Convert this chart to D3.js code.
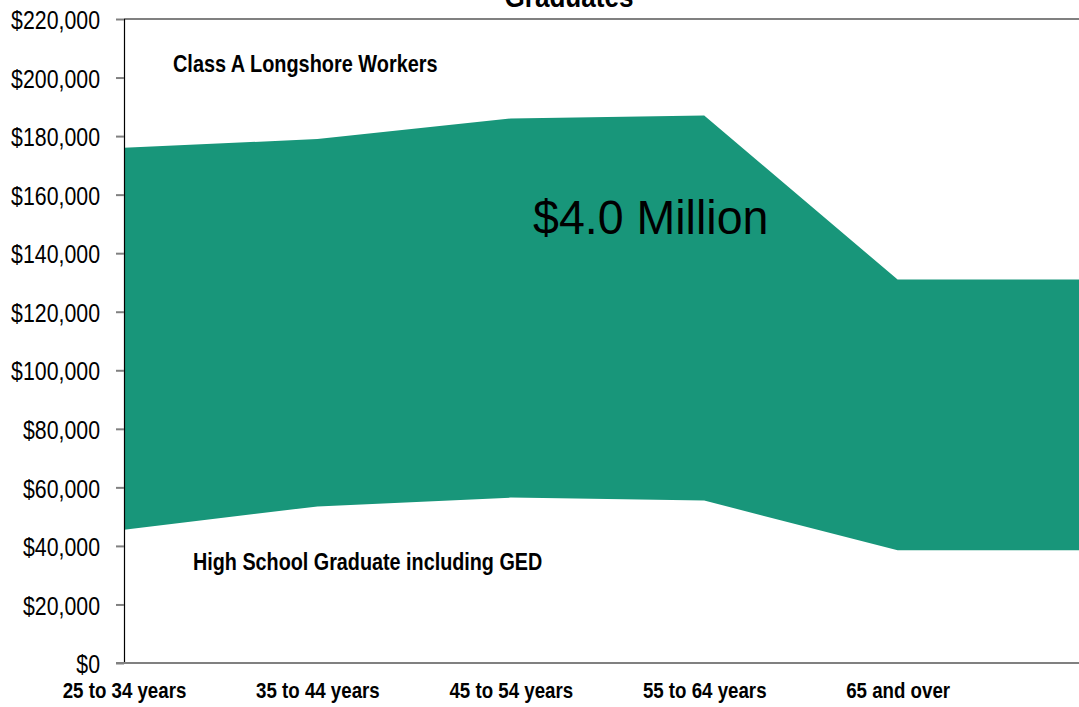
<!DOCTYPE html>
<html>
<head>
<meta charset="utf-8">
<script src="https://cdn.jsdelivr.net/npm/d3@7/dist/d3.min.js"></script>
<style>
  html, body { margin: 0; padding: 0; background: #fff; }
  svg { display: block; font-family: "Liberation Sans Narrow", "Arial Narrow", "Liberation Sans", Arial, sans-serif; }
</style>
</head>
<body>
<svg id="chart" width="1079" height="707"></svg>
<script>
// Age groups; the trailing blank category carries the last band out to the frame edge
const categories = ["25 to 34 years", "35 to 44 years", "45 to 54 years", "55 to 64 years", "65 and over", ""];
// Median earnings by age group
const longshoreEarnings = [176000, 179000, 186000, 187000, 131000, 131000];
const hsGradEarnings = [45500, 53500, 56500, 55500, 38500, 38500];
const yTickValues = [0, 20000, 40000, 60000, 80000, 100000, 120000, 140000, 160000, 180000, 200000, 220000];

const W = 1079, H = 707;
const margin = { top: 19, right: -12, bottom: 44, left: 124 };
const svg = d3.select("#chart");

// Horizontal squeeze that gives the regular sans a condensed look
const condensed = (sel, k, dx = 0, dy = 0) =>
  sel.attr("x", 0).attr("y", 0).attr("transform", `translate(${dx},${dy}) scale(${k},1)`);

const x = d3.scalePoint()
  .domain(categories)
  .range([margin.left, W - margin.right]);

const y = d3.scaleLinear()
  .domain([0, 220000])
  .range([H - margin.bottom, margin.top]);

const rows = categories.map((c, i) => ({ c, hi: longshoreEarnings[i], lo: hsGradEarnings[i] }));

// Gap between the two earnings curves
const band = d3.area()
  .x(d => x(d.c))
  .y0(d => y(d.lo))
  .y1(d => y(d.hi));

svg.append("path")
  .datum(rows)
  .attr("d", band)
  .attr("fill", "#18967a");

// Top frame line
svg.append("line")
  .attr("x1", margin.left).attr("x2", W)
  .attr("y1", y(220000)).attr("y2", y(220000))
  .attr("stroke", "#808080").attr("stroke-width", 2);

// Y axis
const yAxis = d3.axisLeft(y)
  .tickValues(yTickValues)
  .tickSize(8)
  .tickFormat(d => "$" + d3.format(",")(d));

const gy = svg.append("g")
  .attr("transform", `translate(${margin.left},0)`)
  .call(yAxis);
gy.select(".domain").attr("stroke", "#000").attr("stroke-width", 1.2);
gy.selectAll(".tick line").attr("stroke", "#808080").attr("stroke-width", 2);
gy.selectAll(".tick text")
  .call(condensed, 0.82, -24, 0)
  .attr("dy", "0.37em")
  .attr("fill", "#000")
  .style("font-size", "26px");

// X axis
const xAxis = d3.axisBottom(x).tickSize(0).tickSizeOuter(0);
const gx = svg.append("g")
  .attr("transform", `translate(0,${y(0)})`)
  .call(xAxis);
gx.select(".domain").attr("stroke", "#808080").attr("stroke-width", 2)
  .attr("d", `M${margin.left - 8},0H${W}`);
gx.selectAll(".tick text")
  .call(condensed, 0.85, 0, 35)
  .attr("dy", 0)
  .attr("fill", "#000")
  .style("font-size", "22px")
  .style("font-weight", "bold");

// Title (runs off the top edge)
svg.append("text")
  .call(condensed, 0.9, 569, 7)
  .attr("text-anchor", "middle")
  .style("font-size", "29px").style("font-weight", "bold")
  .text("Graduates");

// Series labels
svg.append("text")
  .call(condensed, 0.865, 173, 72)
  .style("font-size", "23px").style("font-weight", "bold")
  .text("Class A Longshore Workers");

svg.append("text")
  .call(condensed, 0.86, 193, 570)
  .style("font-size", "23px").style("font-weight", "bold")
  .text("High School Graduate including GED");

// Lifetime difference callout
svg.append("text")
  .call(condensed, 0.97, 533, 234)
  .style("font-size", "48px")
  .text("$4.0 Million");
</script>
</body>
</html>
